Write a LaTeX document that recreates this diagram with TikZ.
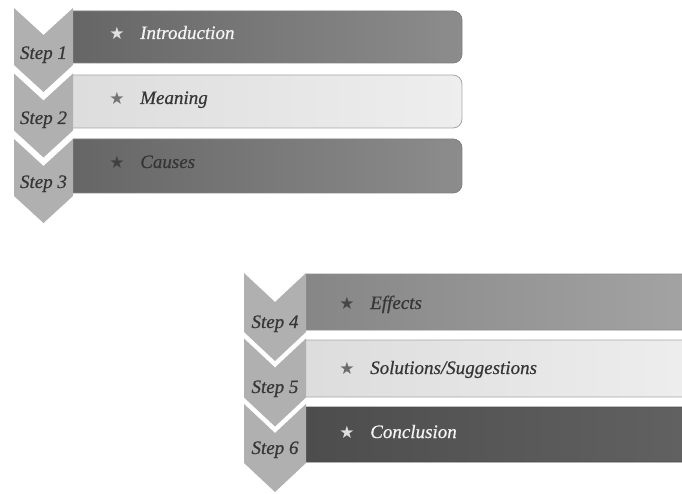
\documentclass[tikz,border=0pt]{standalone}
\usepackage{fontspec}
\setmainfont{Liberation Serif}
\newfontfamily\labfont[ItalicFeatures={FakeBold=0.6}]{Liberation Serif}
\newfontfamily\symfont{DejaVu Sans}
\definecolor{chevgray}{HTML}{B0B0B0}
\definecolor{txtdark}{HTML}{363636}
\definecolor{txtlight}{HTML}{F4F4F4}
\definecolor{darkA}{HTML}{646464}
\definecolor{darkB}{HTML}{8C8C8C}
\definecolor{lightA}{HTML}{DCDCDC}
\definecolor{lightB}{HTML}{EEEEEE}
\definecolor{midA}{HTML}{858585}
\definecolor{midB}{HTML}{A4A4A4}
\definecolor{deepA}{HTML}{4C4C4C}
\definecolor{deepB}{HTML}{626262}
\newcommand\mychev[5]{% L, R, top, height, depth
  \fill[chev] (#1,#3) -- ({(#1+#2)/2},{#3+#5}) -- (#2,#3) -- (#2,{#3+#4})
    -- ({(#1+#2)/2},{#3+#4+#5}) -- (#1,{#3+#4}) -- cycle;}
\begin{document}
\begin{tikzpicture}[x=1pt,y=-1pt,
  chev/.style={fill=chevgray},
  bar/.style={rounded corners=9pt, line width=0.8pt},
  darkbar/.style={bar, left color=darkA, right color=darkB, draw=black!50},
  lightbar/.style={bar, left color=lightA, right color=lightB, draw=black!35},
  midbar/.style={bar, left color=midA, right color=midB, draw=black!45},
  deepbar/.style={bar, left color=deepA, right color=deepB, draw=black!70},
  steplbl/.style={font=\labfont\fontsize{19}{19}\selectfont\itshape, text=txtdark, anchor=base, inner sep=0pt},
  bartxt/.style={font=\labfont\fontsize{19}{19}\selectfont\itshape, anchor=base west, inner sep=0pt},
  starlbl/.style={font=\symfont\fontsize{17}{17}\selectfont, inner sep=0pt}]
\useasboundingbox (0,0) rectangle (682,494);
% top group bars
\begin{scope}
\clip (73,0) rectangle (682,230);
\path[darkbar]  (55,11) rectangle (462,63);
\path[lightbar] (55,75) rectangle (462,128);
\path[darkbar]  (55,139) rectangle (462,193);
\end{scope}
% bottom group bars
\begin{scope}
\clip (306,250) rectangle (682,494);
\path[midbar]   (290,274) rectangle (700,330);
\path[lightbar] (290,340) rectangle (700,397);
\path[deepbar]  (290,407) rectangle (700,462);
\end{scope}
% chevrons
\mychev{14}{73}{8}{57}{27}
\mychev{14}{73}{73.5}{57}{27}
\mychev{14}{73}{139}{57}{27}
\mychev{244}{306}{273}{59}{29}
\mychev{244}{306}{338.5}{59}{29}
\mychev{244}{306}{404}{59}{29}
% step labels
\node[steplbl] (s1) at (43.5,59) {Step 1};
\node[steplbl] (s2) at (43.5,124) {Step 2};
\node[steplbl] (s3) at (43.5,188) {Step 3};
\node[steplbl] (s4) at (275,328) {Step 4};
\node[steplbl] (s5) at (275,393) {Step 5};
\node[steplbl] (s6) at (275,454) {Step 6};
% stars
\node[starlbl, text=black!12] (k1) at (117,33) {★};
\node[starlbl, text=black!55] (k2) at (117,98) {★};
\node[starlbl, text=black!75] (k3) at (117,162) {★};
\node[starlbl, text=black!72] (k4) at (347,303) {★};
\node[starlbl, text=black!58] (k5) at (347,368) {★};
\node[starlbl, text=black!12] (k6) at (347,432) {★};
% bar texts
\node[bartxt, text=txtlight] (t1) at (140,39) {Introduction};
\node[bartxt, text=txtdark] (t2) at (140,104) {Meaning};
\node[bartxt, text=txtdark] (t3) at (140,168) {Causes};
\node[bartxt, text=txtdark] (t4) at (370,309) {Effects};
\node[bartxt, text=txtdark] (t5) at (370,374) {Solutions/Suggestions};
\node[bartxt, text=txtlight] (t6) at (370,438) {Conclusion};
\end{tikzpicture}
\end{document}
